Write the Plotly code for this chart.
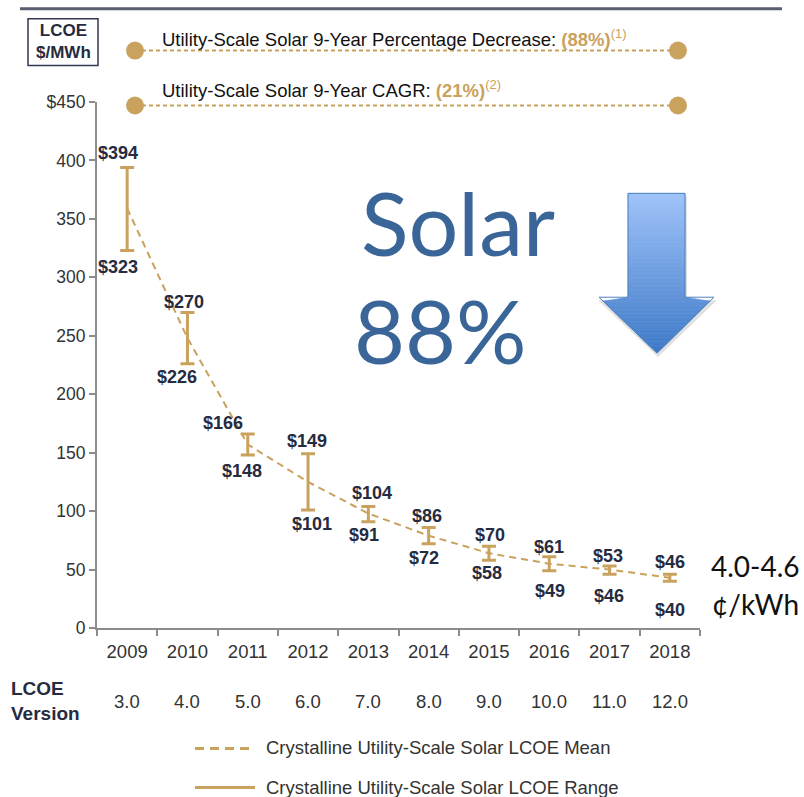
import plotly.graph_objects as go

# data
years = ["2009", "2010", "2011", "2012", "2013", "2014", "2015", "2016", "2017", "2018"]
versions = ["3.0", "4.0", "5.0", "6.0", "7.0", "8.0", "9.0", "10.0", "11.0", "12.0"]
lcoe_high = [394, 270, 166, 149, 104, 86, 70, 61, 53, 46]
lcoe_low = [323, 226, 148, 101, 91, 72, 58, 49, 46, 40]
lcoe_mean = [359, 248, 157, 125, 98, 79, 64, 55, 50, 43]
y_ticks = [0, 50, 100, 150, 200, 250, 300, 350, 400, 450]
y_ticktext = ["0", "50", "100", "150", "200", "250", "300", "350", "400", "$450"]

GOLD = "#C9A25E"
NAVY = "#262B40"
TXT = "#333333"
# the page body margin is removed below, so figure pixels == screen pixels
W, H = 804, 797
L, R, T, B = 97, 700, 101.5, 628.3   # plot area in screen pixels


def px(x):
    return (x - L) / (R - L)


def py(y):
    return (B - y) / (B - T)


def note(x, y, text, font, xanchor="center", yanchor="middle", align="center"):
    return dict(x=px(x), y=py(y), xref="paper", yref="paper", text=text, font=font,
                xanchor=xanchor, yanchor=yanchor, align=align, showarrow=False)


fig = go.Figure()

fig.add_trace(go.Scatter(
    x=years, y=lcoe_mean, mode="lines",
    line=dict(color=GOLD, width=2, dash="7px,5px"),
    error_y=dict(type="data", symmetric=False,
                 array=[h - m for h, m in zip(lcoe_high, lcoe_mean)],
                 arrayminus=[m - l for m, l in zip(lcoe_mean, lcoe_low)],
                 color=GOLD, thickness=3, width=7),
    showlegend=False, hoverinfo="skip"))

ann = []
# label nudges (pixels) so the value labels sit like the original
hi_dx = [-9, -3, -25, -1, 4, -2, 1, 0, -2, 0]
hi_dy = [14, 10, 11, 13, 13, 11, 11, 10, 10, 12]
lo_dx = [-9, -10, -6, 4, -4, -5, -2, 1, -1, 0]
lo_dy = [17, 13, 16, 14, 13, 14, 13, 20, 22, 29]
lab_font = dict(family="Liberation Sans, Arial", size=18, color=NAVY)
ver_font = dict(family="Liberation Sans, Arial", size=18.5, color=TXT)
for i, yr in enumerate(years):
    ann.append(dict(x=i, y=lcoe_high[i], xref="x", yref="y", text="<b>$%d</b>" % lcoe_high[i],
                    xanchor="center", yanchor="middle", showarrow=False,
                    xshift=hi_dx[i], yshift=hi_dy[i], font=lab_font))
    ann.append(dict(x=i, y=lcoe_low[i], xref="x", yref="y", text="<b>$%d</b>" % lcoe_low[i],
                    xanchor="center", yanchor="middle", showarrow=False,
                    xshift=lo_dx[i], yshift=-lo_dy[i], font=lab_font))
    ann.append(dict(x=i, y=py(702), xref="x", yref="paper", text=versions[i],
                    xanchor="center", yanchor="middle", showarrow=False, font=ver_font))

ann.append(note(9, 701, "<b>LCOE<br>Version</b>",
                dict(family="Liberation Sans, Arial", size=19, color=NAVY),
                xanchor="left", align="left"))

# unit box
ann.append(note(63, 41, "<b>LCOE<br>$/MWh</b>",
                dict(family="Liberation Sans, Arial", size=17, color=NAVY)))

hdr_font = dict(family="Liberation Sans, Arial", size=18.5, color="#111111")
ann.append(note(160, 37, "Utility-Scale Solar 9-Year Percentage Decrease: "
                "<b><span style='color:%s'>(88%%)</span></b>"
                "<sup><span style='color:%s'>(1)</span></sup>" % (GOLD, GOLD),
                hdr_font, xanchor="left"))
ann.append(note(160, 88, "Utility-Scale Solar 9-Year CAGR: "
                "<b><span style='color:%s'>(21%%)</span></b>"
                "<sup><span style='color:%s'>(2)</span></sup>" % (GOLD, GOLD),
                hdr_font, xanchor="left"))

# big callouts
big = dict(family="Lato, Carlito, Calibri", size=88, color="#3A6598")
ann.append(note(458, 222, "Solar", big))
ann.append(note(440, 330, "88%", big))
side = dict(family="Lato, Carlito, Calibri", size=28, color="#111111")
ann.append(note(755, 566, "4.0-4.6", side))
ann.append(note(755, 604, "¢/kWh", side))

# legend
leg_font = dict(family="Liberation Sans, Arial", size=18.5, color=TXT)
ann.append(note(264, 748, "Crystalline Utility-Scale Solar LCOE Mean", leg_font, xanchor="left"))
ann.append(note(264, 788, "Crystalline Utility-Scale Solar LCOE Range", leg_font, xanchor="left"))

shapes = [
    dict(type="line", xref="paper", yref="paper", x0=px(20), x1=px(782), y0=py(8), y1=py(8),
         line=dict(color="#5A5E6E", width=3)),
    dict(type="rect", xref="paper", yref="paper", x0=px(28), x1=px(98), y0=py(18), y1=py(65),
         line=dict(color="#333A4F", width=1.5)),
    dict(type="line", xref="paper", yref="paper", x0=px(195), x1=px(255), y0=py(749), y1=py(749),
         line=dict(color=GOLD, width=3, dash="9px,6px")),
    dict(type="line", xref="paper", yref="paper", x0=px(195), x1=px(255), y0=py(788), y1=py(788),
         line=dict(color=GOLD, width=3)),
]
for yy in (50, 105):
    shapes.append(dict(type="line", xref="paper", yref="paper", x0=px(135), x1=px(678),
                       y0=py(yy), y1=py(yy), line=dict(color=GOLD, width=2, dash="4px,3px")))
    for xx in (135, 678):
        shapes.append(dict(type="circle", xref="paper", yref="paper", xsizemode="pixel",
                           ysizemode="pixel", xanchor=px(xx), yanchor=py(yy),
                           x0=-9, x1=9, y0=-9, y1=9, fillcolor=GOLD, line=dict(width=0)))

# gradient down arrow built from horizontal bands
top, neck, tip = 193, 297, 353
sx0, sx1, hx0, hx1, tx = 628, 685, 599, 714, 657
# soft shadow
shadow = "M%f,%f L%f,%f L%f,%f L%f,%f L%f,%f L%f,%f L%f,%f Z" % (
    px(sx0 + 2), py(top + 3), px(sx1 + 2), py(top + 3), px(sx1 + 2), py(neck + 3),
    px(hx1 + 3), py(neck + 3), px(tx + 1), py(tip + 4), px(hx0 - 1), py(neck + 3),
    px(sx0 + 2), py(neck + 3))
shapes.append(dict(type="path", xref="paper", yref="paper", path=shadow,
                   fillcolor="rgba(0,0,0,0.12)", line=dict(width=0)))
nb = 40
c0, c1 = (160, 196, 250), (62, 122, 200)
for k in range(nb):
    ya = top + (tip - top) * k / nb
    yb = top + (tip - top) * (k + 1) / nb
    t = (k + 0.5) / nb
    col = "rgb(%d,%d,%d)" % tuple(int(a + (b - a) * t) for a, b in zip(c0, c1))
    pts = []
    for y in (ya, yb):
        if y <= neck:
            pts.append((sx0, sx1))
        else:
            f = (y - neck) / (tip - neck)
            pts.append((hx0 + (tx - hx0) * f, hx1 + (tx - hx1) * f))
    if ya < neck < yb:
        path = "M%f,%f L%f,%f L%f,%f L%f,%f L%f,%f L%f,%f Z" % (
            px(sx0), py(ya), px(sx1), py(ya), px(sx1), py(neck), px(hx1), py(neck),
            px(hx0), py(neck), px(sx0), py(neck))
    else:
        path = "M%f,%f L%f,%f L%f,%f L%f,%f Z" % (
            px(pts[0][0]), py(ya), px(pts[0][1]), py(ya), px(pts[1][1]), py(yb),
            px(pts[1][0]), py(yb))
    shapes.append(dict(type="path", xref="paper", yref="paper", path=path,
                       fillcolor=col, line=dict(color=col, width=0.6)))
outline = "M%f,%f L%f,%f L%f,%f L%f,%f L%f,%f L%f,%f L%f,%f Z" % (
    px(sx0), py(top), px(sx1), py(top), px(sx1), py(neck), px(hx1), py(neck),
    px(tx), py(tip), px(hx0), py(neck), px(sx0), py(neck))
shapes.append(dict(type="path", xref="paper", yref="paper", path=outline,
                   line=dict(color="#4F81BD", width=1)))

fig.update_layout(
    width=W, height=H,
    margin=dict(l=L, r=W - R, t=T, b=H - B, autoexpand=False),
    paper_bgcolor="white", plot_bgcolor="white",
    xaxis=dict(type="category", range=[-0.5, 9.5], showgrid=False, zeroline=False,
               showline=True, linecolor="#8C8C8C", linewidth=2,
               ticks="outside", tickson="boundaries", ticklen=6, tickcolor="#8C8C8C",
               tickwidth=2, ticklabelstandoff=6,
               tickfont=dict(family="Liberation Sans, Arial", size=18.5, color=TXT)),
    yaxis=dict(range=[0, 450], tickvals=y_ticks, ticktext=y_ticktext, showgrid=False,
               zeroline=False, showline=True, linecolor="#8C8C8C", linewidth=2,
               ticks="outside", ticklen=6, tickcolor="#8C8C8C", tickwidth=2,
               tickfont=dict(family="Liberation Sans, Arial", size=17.5, color=TXT)),
    annotations=ann, shapes=shapes, showlegend=False,
)

fig.write_html("out.html", config={"displayModeBar": False},
               post_script="document.body.style.margin='0';"
                           "document.documentElement.style.overflow='hidden';")
